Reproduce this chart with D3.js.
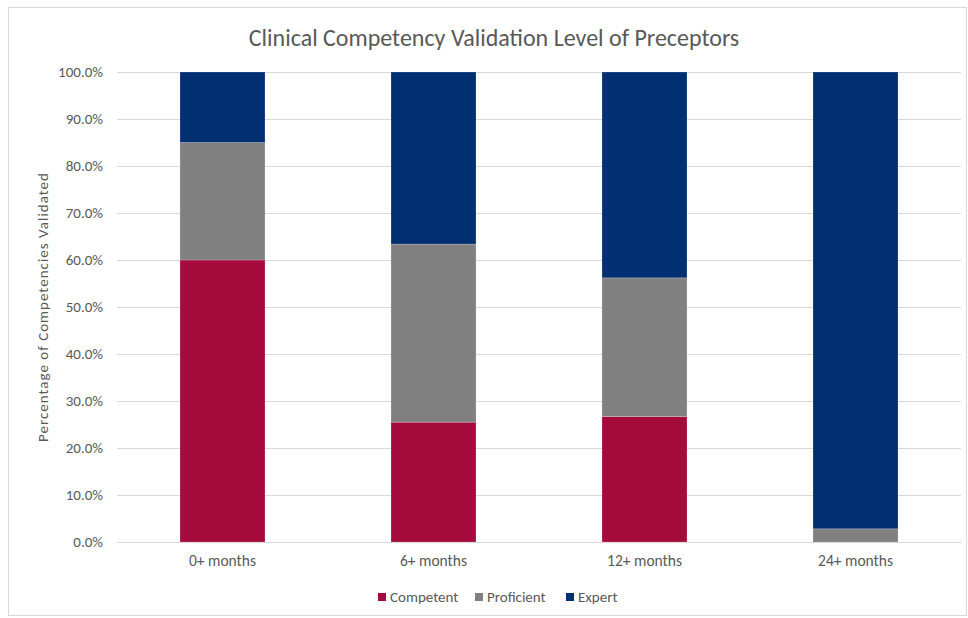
<!DOCTYPE html>
<html>
<head>
<meta charset="utf-8">
<script src="https://cdn.jsdelivr.net/npm/d3@7"></script>
<style>
  body { margin: 0; background: #fff; }
  text { font-family: Calibri, Carlito, "Open Sans", "Liberation Sans", sans-serif; fill: #595959; }
</style>
</head>
<body>
<div id="plot"></div>
<script>
// chart data
const categories = ["0+ months", "6+ months", "12+ months", "24+ months"];
const seriesNames = ["Competent", "Proficient", "Expert"];
const competent = [60.0, 25.5, 26.7, 0.0];
const proficient = [25.0, 37.9, 29.5, 2.8];
const expert = [15.0, 36.6, 43.8, 97.2];
const yTicks = [0, 10, 20, 30, 40, 50, 60, 70, 80, 90, 100];
const colors = ["#A50A3D", "#808080", "#002F72"];

const w = 968;
const h = 618;
const margin = {top: 72, right: 7, bottom: 76, left: 117};
const innerWidth = w - margin.left - margin.right;
const innerHeight = h - margin.top - margin.bottom;

const svg = d3.select("div#plot")
    .append("svg")
    .attr("width", w)
    .attr("height", h);

// chart border
svg.append("rect")
    .attr("x", 8.5)
    .attr("y", 7.5)
    .attr("width", w - 10)
    .attr("height", h - 10)
    .attr("fill", "white")
    .attr("stroke", "#d9d9d9");

const table = categories.map((c, i) => ({
  cat: c,
  Competent: competent[i],
  Proficient: proficient[i],
  Expert: expert[i]
}));

const stacked = d3.stack().keys(seriesNames)(table);

const xScale = d3.scaleBand()
    .domain(categories)
    .range([0, innerWidth])
    .paddingInner(0.597)
    .paddingOuter(0.2985);

const yScale = d3.scaleLinear()
    .domain([0, 100])
    .range([innerHeight, 0]);

const g = svg.append("g")
    .attr("transform", `translate(${margin.left}, ${margin.top})`);

// gridlines
g.append("g")
  .selectAll("line")
  .data(yTicks)
  .join("line")
    .attr("x1", 0)
    .attr("x2", innerWidth)
    .attr("y1", d => Math.round(yScale(d)) + 0.5)
    .attr("y2", d => Math.round(yScale(d)) + 0.5)
    .attr("stroke", "#d9d9d9")
    .attr("stroke-width", 1);

// y axis labels
const yAxis = d3.axisLeft(yScale)
    .tickValues(yTicks)
    .tickFormat(d => d.toFixed(1) + "%")
    .tickSize(0)
    .tickPadding(14);

g.append("g")
    .attr("class", "yAxis")
    .call(yAxis)
    .call(a => a.select(".domain").remove())
    .selectAll("text")
    .style("font-size", "15px")
    .attr("fill", "#595959");

// bars
g.append("g")
  .selectAll("g")
  .data(stacked)
  .join("g")
    .attr("fill", (d, i) => colors[i])
  .selectAll("rect")
  .data(d => d)
  .join("rect")
    .attr("x", d => xScale(d.data.cat))
    .attr("y", d => yScale(d[1]))
    .attr("width", xScale.bandwidth())
    .attr("height", d => yScale(d[0]) - yScale(d[1]))
    .attr("stroke", "rgba(255,255,255,0.35)")
    .attr("stroke-width", 0.6);

// x axis
const xAxis = d3.axisBottom(xScale)
    .tickSize(0)
    .tickPadding(13);

g.append("g")
    .attr("class", "xAxis")
    .attr("transform", `translate(0, ${innerHeight})`)
    .call(xAxis)
    .call(a => a.select(".domain").attr("stroke", "#d9d9d9"))
    .selectAll("text")
    .style("font-size", "15.5px")
    .attr("fill", "#595959");

// title
svg.append("text")
    .attr("x", 494)
    .attr("y", 46)
    .attr("text-anchor", "middle")
    .style("font-size", "24px")
    .text("Clinical Competency Validation Level of Preceptors");

// y axis title
svg.append("text")
    .attr("transform", `translate(48, ${margin.top + innerHeight / 2}) rotate(-90)`)
    .attr("text-anchor", "middle")
    .style("font-size", "15px")
    .style("letter-spacing", "1px")
    .text("Percentage of Competencies Validated");

// legend
const legendX = [378, 475, 566];
const legend = svg.append("g")
  .selectAll("g")
  .data(seriesNames)
  .join("g")
    .attr("transform", (d, i) => `translate(${legendX[i]}, 597)`);

legend.append("rect")
    .attr("x", 0)
    .attr("y", -4)
    .attr("width", 8)
    .attr("height", 8)
    .attr("fill", (d, i) => colors[i]);

legend.append("text")
    .attr("x", 12)
    .attr("y", 5)
    .style("font-size", "15px")
    .text(d => d);
</script>
</body>
</html>
